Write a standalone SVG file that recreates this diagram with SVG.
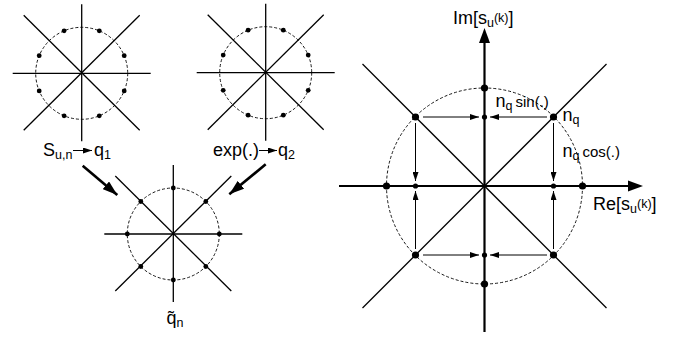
<svg xmlns="http://www.w3.org/2000/svg" width="685" height="338" viewBox="0 0 685 338">
<style>
.ln{stroke:#000;stroke-width:1.3;fill:none}
.ax{stroke:#000;stroke-width:2.2;fill:none}
.dc{stroke:#000;stroke-width:0.9;fill:none;stroke-dasharray:3,2}
.t{font-family:"Liberation Sans",Arial,sans-serif;font-size:18px;fill:#000}
.t tspan{fill:#000}
.s{font-size:12.5px}
.m{font-size:15px}
.ar{stroke:#000;stroke-width:1;fill:none;marker-end:url(#ah)}
.br{stroke:#000;stroke-width:2.6;fill:none;marker-end:url(#bh)}
</style>
<defs>
<marker id="ah" markerUnits="userSpaceOnUse" markerWidth="9" markerHeight="6" refX="9" refY="3" orient="auto"><path d="M0,0 L9,3 L0,6 z" fill="#000"/></marker>
<marker id="bh" markerUnits="userSpaceOnUse" markerWidth="15" markerHeight="10" refX="15" refY="5" orient="auto"><path d="M0,0 L15,5 L0,10 z" fill="#000"/></marker>
<g id="star">
<line class="ln" x1="0" y1="-69" x2="0" y2="68"/>
<line class="ln" x1="-69" y1="0" x2="69" y2="0"/>
<line class="ln" x1="-58" y1="-58" x2="58" y2="57"/>
<line class="ln" x1="58" y1="-58" x2="-58" y2="57"/>
<circle class="dc" r="46"/>
</g>
</defs>
<g id="diagram-q1" transform="translate(81.7,73.3)">
<use href="#star"/>
<g fill="#000">
<circle cx="-17.6" cy="-42.5" r="2.4"/><circle cx="17.6" cy="-42.5" r="2.4"/>
<circle cx="-17.6" cy="42.5" r="2.4"/><circle cx="17.6" cy="42.5" r="2.4"/>
<circle cx="-42.5" cy="-17.6" r="2.4"/><circle cx="42.5" cy="-17.6" r="2.4"/>
<circle cx="-42.5" cy="17.6" r="2.4"/><circle cx="42.5" cy="17.6" r="2.4"/>
</g>
</g>
<g id="diagram-q2" transform="translate(265.7,72.7)">
<use href="#star"/>
<g fill="#000">
<circle cx="-17.6" cy="-42.5" r="2.4"/><circle cx="17.6" cy="-42.5" r="2.4"/>
<circle cx="-17.6" cy="42.5" r="2.4"/><circle cx="17.6" cy="42.5" r="2.4"/>
<circle cx="-42.5" cy="-17.6" r="2.4"/><circle cx="42.5" cy="-17.6" r="2.4"/>
<circle cx="-42.5" cy="17.6" r="2.4"/><circle cx="42.5" cy="17.6" r="2.4"/>
</g>
</g>
<g id="diagram-qn" transform="translate(173.3,234)">
<use href="#star"/>
<g fill="#000">
<circle cx="0" cy="-46" r="2.4"/><circle cx="32.5" cy="-32.5" r="2.4"/>
<circle cx="46" cy="0" r="2.4"/><circle cx="32.5" cy="32.5" r="2.4"/>
<circle cx="0" cy="46" r="2.4"/><circle cx="-32.5" cy="32.5" r="2.4"/>
<circle cx="-46" cy="0" r="2.4"/><circle cx="-32.5" cy="-32.5" r="2.4"/>
</g>
</g>
<g id="label-q1">
<text class="t" x="43" y="156">S<tspan class="s" dy="3">u,n</tspan></text>
<line class="ar" x1="73" y1="150.5" x2="92" y2="150.5"/>
<text class="t" x="94" y="156">q<tspan class="s" dy="3">1</tspan></text>
</g>
<g id="label-q2">
<text class="t" x="213" y="156">exp(.)</text>
<line class="ar" x1="259" y1="150.5" x2="277" y2="150.5"/>
<text class="t" x="278" y="156">q<tspan class="s" dy="3">2</tspan></text>
</g>
<g id="label-qn">
<text class="t" x="166.5" y="324">q̃<tspan class="s" dy="3">n</tspan></text>
</g>
<g id="constellation">
<line class="ln" x1="362.5" y1="64" x2="606.5" y2="308"/>
<line class="ln" x1="606.5" y1="64" x2="362.5" y2="308"/>
<circle class="dc" cx="484.5" cy="186" r="98"/>
<line class="ax" x1="484.5" y1="332" x2="484.5" y2="42"/>
<path d="M484.5,28 L490,43 L479,43 z" fill="#000"/>
<line class="ax" x1="339" y1="186" x2="629" y2="186"/>
<path d="M643,186 L628,180.5 L628,191.5 z" fill="#000"/>
<g fill="#000">
<circle cx="484.5" cy="88" r="3.6"/><circle cx="582.5" cy="186" r="3.6"/>
<circle cx="484.5" cy="284" r="3.6"/><circle cx="386.5" cy="186" r="3.6"/>
<circle cx="415.5" cy="117" r="3.6"/><circle cx="553.5" cy="117" r="3.6"/>
<circle cx="415.5" cy="255" r="3.6"/><circle cx="553.5" cy="255" r="3.6"/>
<circle cx="484.5" cy="117" r="2.6"/><circle cx="484.5" cy="255" r="2.6"/>
<circle cx="415.5" cy="186" r="2.6"/><circle cx="553.5" cy="186" r="2.6"/>
</g>
<text class="t" x="453" y="24">Im[s<tspan class="s" dy="3">u</tspan><tspan class="s" dy="-5">(k)</tspan><tspan dy="2">]</tspan></text>
<text class="t" x="593" y="210">Re[s<tspan class="s" dy="3">u</tspan><tspan class="s" dy="-5">(k)</tspan><tspan dy="2">]</tspan></text>
<text class="t" x="495.5" y="107">n<tspan class="s" dy="3">q</tspan><tspan class="m" dx="3" dy="-3">sin(.)</tspan></text>
<text class="t" x="562.5" y="121">n<tspan class="s" dy="3">q</tspan></text>
<text class="t" x="562.5" y="157">n<tspan class="s" dy="3">q</tspan><tspan class="m" dx="3" dy="-3">cos(.)</tspan></text>
</g>
<g id="connectors">
<line class="br" x1="82.7" y1="165.7" x2="117.3" y2="195"/>
<line class="br" x1="265.7" y1="164.3" x2="229.3" y2="194.3"/>
<line class="ar" x1="423" y1="117" x2="479" y2="117"/>
<line class="ar" x1="547" y1="117" x2="490" y2="117"/>
<line class="ar" x1="423" y1="255" x2="479" y2="255"/>
<line class="ar" x1="547" y1="255" x2="490" y2="255"/>
<line class="ar" x1="415.5" y1="123" x2="415.5" y2="181"/>
<line class="ar" x1="553.5" y1="123" x2="553.5" y2="181"/>
<line class="ar" x1="415.5" y1="249" x2="415.5" y2="191"/>
<line class="ar" x1="553.5" y1="249" x2="553.5" y2="191"/>
</g>
</svg>
